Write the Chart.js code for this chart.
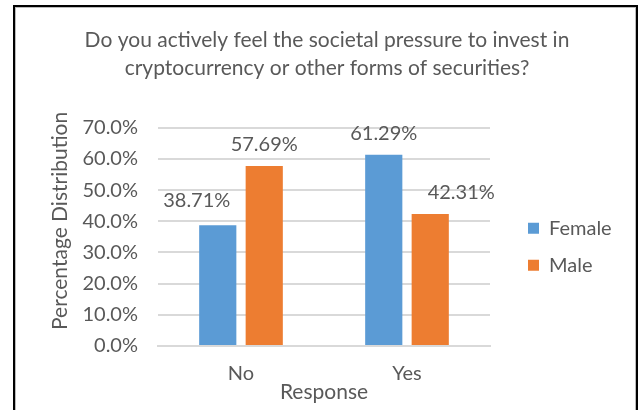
<!DOCTYPE html>
<html>
<head>
<meta charset="utf-8">
<script src="https://cdn.jsdelivr.net/npm/chart.js@4/dist/chart.umd.min.js"></script>
<style>
  html, body { margin: 0; padding: 0; background: #fff; }
  #wrap { position: relative; width: 639px; height: 410px; overflow: hidden; }
  #frame {
    position: absolute; left: 13px; top: 5px; width: 621px; height: 420px;
    border: 2px solid #000; box-shadow: inset 1px 1px 0 #bbb, inset -1px 0 0 #bbb;
    pointer-events: none;
  }
  canvas { position: absolute; left: 0; top: 0; }
</style>
</head>
<body>
<div id="wrap">
  <canvas id="chart" width="639" height="410"></canvas>
  <div id="frame"></div>
</div>
<script>
// Datos de la encuesta
const categorias = ['No', 'Yes'];
const femenino = [38.71, 61.29];
const masculino = [57.69, 42.31];
const ticksY = [0, 10, 20, 30, 40, 50, 60, 70];
const tituloY = 'Percentage Distribution';

// desplazamiento de las etiquetas de valor respecto al tope de cada barra
const desplazEtiquetas = [
  { dx: [-21, 0], dy: [-25, -21] },
  { dx: [0, 31], dy: [-22, -22] }
];

const fuente = 'Lato, "Open Sans", sans-serif';
const gris = '#595959';

// Etiquetas de valor sobre las barras
const etiquetasValor = {
  id: 'etiquetasValor',
  afterDatasetsDraw(chart) {
    const ctx = chart.ctx;
    ctx.save();
    ctx.font = '20px ' + fuente;
    ctx.fillStyle = gris;
    ctx.textAlign = 'center';
    ctx.textBaseline = 'middle';
    chart.data.datasets.forEach((ds, d) => {
      chart.getDatasetMeta(d).data.forEach((bar, i) => {
        const off = desplazEtiquetas[d];
        ctx.fillText(ds.data[i].toFixed(2) + '%', bar.x + off.dx[i], bar.y + off.dy[i]);
      });
    });
    ctx.restore();
  }
};

// Título del eje Y, un poco por encima del centro del área
const tituloEjeY = {
  id: 'tituloEjeY',
  afterDraw(chart) {
    const ctx = chart.ctx;
    const a = chart.chartArea;
    ctx.save();
    ctx.translate(60, (a.top + a.bottom) / 2 - 16);
    ctx.rotate(-Math.PI / 2);
    ctx.font = '21px ' + fuente;
    ctx.fillStyle = gris;
    ctx.textAlign = 'center';
    ctx.textBaseline = 'middle';
    ctx.fillText(tituloY, 0, 0);
    ctx.restore();
  }
};

// Ancho fijo de la leyenda y posición a la derecha del área de trazado
const ajusteLeyenda = {
  id: 'ajusteLeyenda',
  beforeLayout(chart) {
    const lg = chart.legend;
    if (!lg || lg._anchoFijo) return;
    const fit = lg.fit;
    lg.fit = function () { fit.call(this); this.width = 149; };
    lg._anchoFijo = true;
  },
  afterLayout(chart) {
    const lg = chart.legend;
    if (!lg) return;
    lg.left += 21; lg.right += 21;
    lg.top += 10; lg.bottom += 10;
  }
};

new Chart(document.getElementById('chart'), {
  type: 'bar',
  data: {
    labels: categorias,
    datasets: [
      { label: 'Female', data: femenino, backgroundColor: '#5B9BD5', categoryPercentage: 0.56, barPercentage: 0.8 },
      { label: 'Male', data: masculino, backgroundColor: '#ED7D31', categoryPercentage: 0.56, barPercentage: 0.8 }
    ]
  },
  options: {
    responsive: false,
    animation: false,
    layout: { padding: { left: 15, right: 0, top: 10, bottom: 0 } },
    plugins: {
      tooltip: { enabled: false },
      title: {
        display: true,
        text: ['Do you actively feel the societal pressure to invest in',
               'cryptocurrency or other forms of securities?'],
        color: gris,
        font: { family: fuente, size: 21, weight: 'normal', lineHeight: 1.35 },
        padding: { top: 16, bottom: 45 }
      },
      legend: {
        position: 'right',
        fullSize: false,
        labels: {
          color: gris,
          font: { family: fuente, size: 20 },
          boxWidth: 11,
          boxHeight: 11,
          padding: 17
        }
      }
    },
    scales: {
      x: {
        grid: { display: false },
        border: { display: true, color: '#d9d9d9', width: 2 },
        ticks: { color: gris, font: { family: fuente, size: 20 }, padding: 8 },
        title: { display: true, text: 'Response', color: gris, font: { family: fuente, size: 21 }, padding: { top: 5, bottom: 5 } },
        afterFit(s) { s.height = 64; }
      },
      y: {
        min: 0,
        max: 70,
        afterBuildTicks(s) { s.ticks = ticksY.map(v => ({ value: v })); },
        grid: { color: '#d9d9d9', lineWidth: 2, drawTicks: false },
        border: { display: false },
        ticks: {
          color: gris,
          font: { family: fuente, size: 20 },
          padding: 20,
          callback: v => v.toFixed(1) + '%'
        },
        afterFit(s) { s.width = 143; }
      }
    }
  },
  plugins: [etiquetasValor, tituloEjeY, ajusteLeyenda]
});
</script>
</body>
</html>
